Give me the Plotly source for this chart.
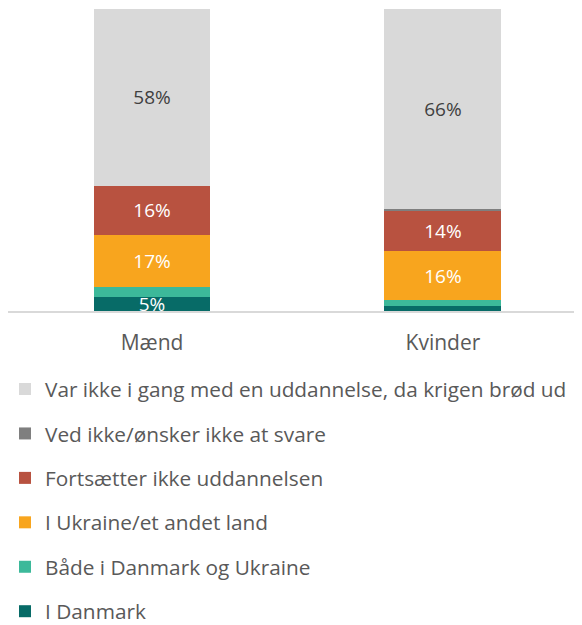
import plotly.graph_objects as go

categories = ["Mænd", "Kvinder"]
series_names = [
    "I Danmark",
    "Både i Danmark og Ukraine",
    "I Ukraine/et andet land",
    "Fortsætter ikke uddannelsen",
    "Ved ikke/ønsker ikke at svare",
    "Var ikke i gang med en uddannelse, da krigen brød ud",
]
i_danmark = [4.7, 1.5]
baade = [3.3, 2.0]
i_ukraine = [17.3, 16.3]
fortsaetter_ikke = [16.2, 13.6]
ved_ikke = [0.0, 0.5]
var_ikke = [58.4, 66.1]

series_values = [i_danmark, baade, i_ukraine, fortsaetter_ikke, ved_ikke, var_ikke]
colors = ["#076B67", "#3CB99A", "#F8A51E", "#B85240", "#7F7F7F", "#D9D9D9"]
label_colors = ["white", "white", "white", "white", "white", "#404040"]

FONT = "Open Sans"
TXT = "#595959"

fig = go.Figure()
n = len(series_names)
for i, (name, vals, col, lc) in enumerate(zip(series_names, series_values, colors, label_colors)):
    texts = [f"{round(v)}%" if v >= 4 else "" for v in vals]
    fig.add_trace(go.Bar(
        x=categories, y=vals, name=name,
        marker=dict(color=col, line=dict(width=0)),
        width=0.402,
        text=texts, textposition="inside", insidetextanchor="middle",
        constraintext="none",
        textfont=dict(family=FONT, size=19, color=lc),
        legendgroup=name,
        legendrank=n - i,
        hoverinfo="skip",
    ))

fig.update_layout(
    barmode="stack",
    width=574, height=617,
    margin=dict(l=0, r=0, t=1, b=314, autoexpand=False),
    paper_bgcolor="white", plot_bgcolor="white",
    font=dict(family=FONT, color=TXT, size=20),
    xaxis=dict(
        range=[-0.495, 1.478],
        showline=True, linecolor="#D9D9D9", linewidth=1.5,
        showgrid=False, ticks="", ticklabelstandoff=12,
        tickfont=dict(family=FONT, size=21, color=TXT),
    ),
    yaxis=dict(range=[0, 100], visible=False, showgrid=False),
    showlegend=True,
    legend=dict(
        orientation="v", traceorder="grouped",
        x=-0.0052, xanchor="left", y=-0.192, yanchor="top",
        font=dict(family=FONT, size=20.8, color=TXT),
        tracegroupgap=14.4, itemsizing="constant",
        bgcolor="rgba(0,0,0,0)",
    ),
)

fig.write_html("out.html")
